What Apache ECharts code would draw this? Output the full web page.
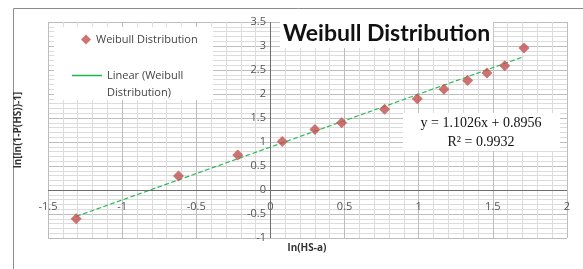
<!DOCTYPE html>
<html>
<head>
<meta charset="utf-8">
<script src="https://cdn.jsdelivr.net/npm/echarts@6/dist/echarts.min.js"></script>
<style>
  html, body { margin: 0; padding: 0; background: #fff; }
  #chart { width: 583px; height: 269px; }
</style>
</head>
<body>
<div id="chart"></div>
<script>
// ln(HS-a) values
var lnX = [-1.31, -0.62, -0.22, 0.08, 0.30, 0.48, 0.77, 0.99, 1.17, 1.33, 1.46, 1.58, 1.71];
// ln[ln(1-P(HS))-1] values
var lnY = [-0.60, 0.29, 0.73, 1.01, 1.26, 1.40, 1.68, 1.90, 2.10, 2.28, 2.44, 2.59, 2.96];
// trendline end points
var trendX = [-1.31, 1.71];
var trendY = [-0.55, 2.78];
var eqText = ['y = 1.1026x + 0.8956', 'R\u00b2 = 0.9932'];

var pointName = 'Weibull Distribution';
var lineName = 'Linear (Weibull Distribution)';

var points = lnX.map(function (x, i) { return [x, lnY[i]]; });
var trend = trendX.map(function (x, i) { return [x, trendY[i]]; });

var chart = echarts.init(document.getElementById('chart'));
var labelStyle = { color: '#555', fontSize: 11, fontFamily: 'Open Sans' };
var nameFont = 'bold 10px "Open Sans"';
var option = {
  animation: false,
  grid: { left: 48, right: 16, top: 22, bottom: 31 },
  title: {
    text: 'Weibull Distribution',
    left: 280, top: 19,
    padding: [3, 3],
    backgroundColor: '#fff',
    textStyle: { fontFamily: 'Lato', fontWeight: 'bold', fontSize: 23, color: '#111' }
  },
  legend: [
    {
      data: [{ name: pointName, icon: 'diamond' }],
      left: 76, top: 29,
      itemWidth: 10, itemHeight: 10, itemGap: 0,
      textStyle: { color: '#444', fontSize: 11, fontFamily: 'Open Sans' }
    },
    {
      data: [{ name: lineName, icon: 'rect' }],
      left: 67, top: 45,
      itemWidth: 30, itemHeight: 1.5,
      formatter: function () { return '\nLinear (Weibull\nDistribution)'; },
      textStyle: { color: '#444', fontSize: 11, lineHeight: 17, fontFamily: 'Open Sans' }
    }
  ],
  graphic: [
    {
      type: 'rect', z: 3, silent: true,
      shape: { x: 13.5, y: 8.5, width: 600, height: 300 },
      style: { fill: 'none', stroke: '#8c8c8c', lineWidth: 1 }
    },
    {
      type: 'rect', z: 3, silent: true,
      shape: { x: 54, y: 27, width: 159, height: 73 },
      style: { fill: '#fff' }
    },
    {
      type: 'rect', z: 9, silent: true,
      shape: { x: 403, y: 113, width: 157, height: 38 },
      style: { fill: '#fff' }
    },
    {
      type: 'text', z: 10, silent: true,
      x: 481, y: 114,
      style: {
        text: eqText.join('\n'),
        fill: '#111',
        font: '14px "Liberation Serif"',
        align: 'center',
        verticalAlign: 'top',
        lineHeight: 19
      }
    },
    {
      // y axis title
      type: 'text', z: 10, silent: true,
      x: 18, y: 130, rotation: Math.PI / 2,
      style: {
        text: 'ln[ln(1-P(HS))-1]',
        fill: '#333',
        font: nameFont,
        align: 'center',
        verticalAlign: 'middle'
      }
    },
    {
      // x axis title
      type: 'text', z: 10, silent: true,
      x: 307, y: 248,
      style: {
        text: 'ln(HS-a)',
        fill: '#333',
        font: nameFont,
        align: 'center',
        verticalAlign: 'middle'
      }
    }
  ],
  xAxis: {
    type: 'value',
    min: -1.5, max: 2, interval: 0.5,
    axisLine: { show: false },
    axisTick: { show: false },
    // labels pulled up to sit under the y = 0 line
    axisLabel: Object.assign({ margin: -37 }, labelStyle),
    splitLine: { show: true, lineStyle: { color: '#bdbdbd' } },
    minorTick: { show: false, splitNumber: 5 },
    minorSplitLine: { show: true, lineStyle: { color: '#dcdcdc' } }
  },
  yAxis: {
    type: 'value',
    min: -1, max: 3.5, interval: 0.5,
    axisLine: { show: false },
    axisTick: { show: false },
    // labels pushed right to sit beside the x = 0 line
    axisLabel: Object.assign({ margin: -218 }, labelStyle),
    splitLine: { show: true, lineStyle: { color: '#bdbdbd' } },
    minorTick: { show: false, splitNumber: 5 },
    minorSplitLine: { show: true, lineStyle: { color: '#dcdcdc' } }
  },
  series: [
    {
      name: lineName,
      type: 'line',
      data: trend,
      symbol: 'none',
      color: '#1fb34a',
      lineStyle: { color: '#2dbb5a', width: 1.2, type: 'dashed' },
      z: 2
    },
    {
      name: pointName,
      type: 'scatter',
      data: points,
      symbol: 'diamond',
      symbolSize: 11,
      itemStyle: { color: '#c0504d' },
      z: 3,
      markLine: {
        silent: true,
        symbol: 'none',
        label: { show: false },
        lineStyle: { color: '#6e6e6e', type: 'solid', width: 1 },
        data: [{ xAxis: 0 }, { yAxis: 0 }]
      }
    }
  ]
};
chart.setOption(option);
</script>
</body>
</html>
